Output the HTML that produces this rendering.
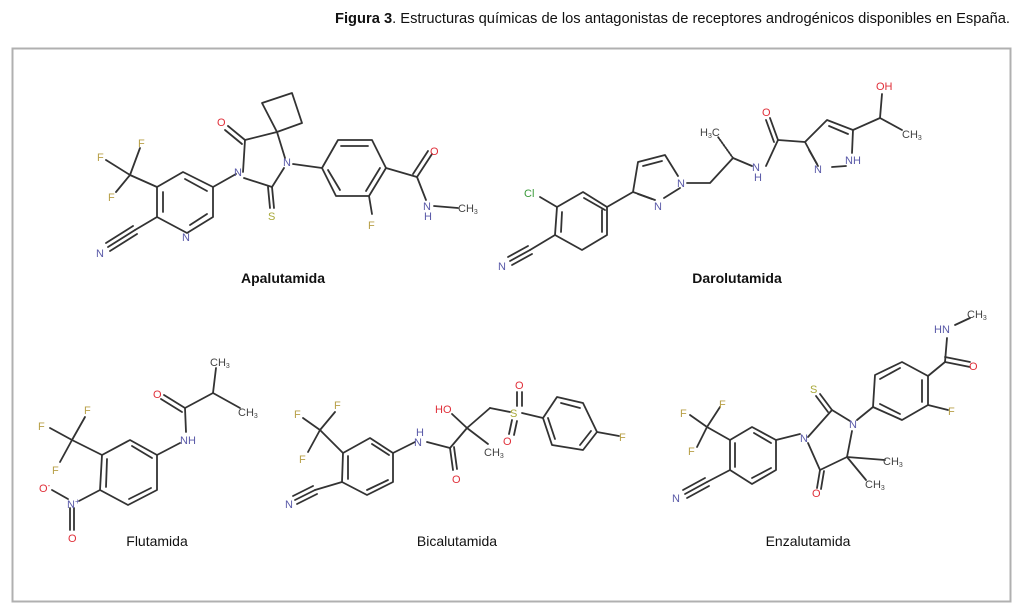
<!DOCTYPE html>
<html><head><meta charset="utf-8"><style>
body{margin:0;background:#fff;}
svg{display:block}
.b{stroke:#333;stroke-width:1.8;fill:none;stroke-linecap:round;stroke-linejoin:round}
text{font-family:"Liberation Sans",sans-serif;font-size:11px}
.n{fill:#5a5aa8}.o{fill:#e0303a}.f{fill:#b8a048}.s{fill:#a8a838}.c{fill:#444}.cl{fill:#3a9a3a}
.lab{font-size:14px;fill:#111;text-anchor:middle}
</style></head><body>
<svg width="1024" height="614" viewBox="0 0 1024 614">
<rect x="12.5" y="48.5" width="998" height="553" fill="#fff" stroke="#b0b0b0" stroke-width="2"/>
<text x="1010" y="23" text-anchor="end" style="font-family:'Liberation Sans Narrow','Liberation Sans',sans-serif;font-size:15px" textLength="675" lengthAdjust="spacingAndGlyphs" fill="#111"><tspan font-weight="bold">Figura 3</tspan>. Estructuras químicas de los antagonistas de receptores androgénicos disponibles en España.</text>

<!-- Apalutamida -->
<g class="b">
<polygon points="157,187 183,172 213,187 213,217 187,233 157,217"/>
<line x1="163" y1="192" x2="163" y2="212"/><line x1="185" y1="179" x2="207" y2="191"/><line x1="207" y1="214" x2="190" y2="225"/>
<line x1="157" y1="187" x2="130" y2="175"/><line x1="130" y1="175" x2="106" y2="160"/><line x1="130" y1="175" x2="140" y2="148"/><line x1="130" y1="175" x2="116" y2="192"/>
<line x1="157" y1="217" x2="135" y2="230"/><line x1="135" y1="230" x2="108" y2="247"/><line x1="133" y1="226" x2="106" y2="243"/><line x1="137" y1="234" x2="110" y2="251"/>
<line x1="213" y1="187" x2="236" y2="174"/>
<polyline points="243,172 245,140 277,132 285,158"/><polyline points="244,178 272,187 284,168"/>
<line x1="245" y1="140" x2="228" y2="126"/><line x1="242" y1="144" x2="225" y2="130"/>
<line x1="272" y1="187" x2="274" y2="208"/><line x1="268" y1="187" x2="270" y2="208"/>
<polygon points="277,132 262,103 292,93 302,123"/>
<line x1="293" y1="164" x2="322" y2="168"/>
<polygon points="322,168 338,140 372,140 386,168 369,196 336,196"/>
<line x1="341" y1="146" x2="368" y2="146"/><line x1="380" y1="168" x2="366" y2="191"/><line x1="340" y1="190" x2="328" y2="170"/>
<line x1="386" y1="168" x2="417" y2="177"/><line x1="417" y1="177" x2="432" y2="154"/><line x1="413" y1="174" x2="428" y2="151"/>
<line x1="417" y1="177" x2="426" y2="200"/><line x1="434" y1="206" x2="458" y2="208"/><line x1="369" y1="196" x2="372" y2="214"/>
</g>
<text x="97" y="161" class="f">F</text><text x="138" y="147" class="f">F</text><text x="108" y="201" class="f">F</text>
<text x="96" y="257" class="n">N</text><text x="182" y="241" class="n">N</text><text x="234" y="176" class="n">N</text><text x="283" y="166" class="n">N</text>
<text x="217" y="126" class="o">O</text><text x="268" y="220" class="s">S</text><text x="430" y="155" class="o">O</text>
<text x="368" y="229" class="f">F</text><text x="423" y="210" class="n">N</text><text x="424" y="220" class="n" font-size="9">H</text><text x="458" y="212" class="c">CH<tspan font-size="7" dy="2">3</tspan></text>
<text x="283" y="283" class="lab" font-weight="bold">Apalutamida</text>

<!-- Darolutamida -->
<g class="b">
<polygon points="557,207 583,192 607,207 607,235 582,250 555,235"/>
<line x1="562" y1="212" x2="561" y2="232"/><line x1="602" y1="210" x2="602" y2="232"/><line x1="584" y1="198" x2="605" y2="210"/>
<line x1="557" y1="207" x2="540" y2="197"/>
<line x1="555" y1="235" x2="530" y2="250"/><line x1="530" y1="250" x2="510" y2="261"/><line x1="528" y1="246" x2="508" y2="257"/><line x1="532" y1="254" x2="512" y2="265"/>
<line x1="607" y1="207" x2="633" y2="192"/>
<polyline points="655,200 633,192 638,162 665,155 678,176"/><line x1="680" y1="188" x2="664" y2="198"/>
<line x1="643" y1="166" x2="662" y2="161"/><line x1="638" y1="194" x2="652" y2="199"/>
<polyline points="687,183 710,183 733,158 752,166"/>
<line x1="733" y1="158" x2="718" y2="137" stroke-dasharray="1.5 1.5"/>
<line x1="766" y1="166" x2="778" y2="140"/><line x1="778" y1="140" x2="770" y2="118"/><line x1="774" y1="142" x2="766" y2="120"/>
<line x1="778" y1="140" x2="805" y2="142"/>
<polyline points="818,166 805,142 827,120 853,130 852,153"/><line x1="829" y1="126" x2="848" y2="134"/><line x1="809" y1="150" x2="817" y2="164"/><line x1="832" y1="167" x2="846" y2="166"/>
<line x1="853" y1="130" x2="880" y2="118"/><line x1="880" y1="118" x2="882" y2="94"/><line x1="880" y1="118" x2="902" y2="130"/>
</g>
<text x="524" y="197" class="cl">Cl</text><text x="498" y="270" class="n">N</text><text x="654" y="210" class="n">N</text><text x="677" y="187" class="n">N</text>
<text x="700" y="136" class="c" font-size="10">H<tspan font-size="7" dy="2">3</tspan><tspan dy="-2">C</tspan></text>
<text x="752" y="171" class="n">N</text><text x="754" y="181" class="n" font-size="9">H</text><text x="762" y="116" class="o">O</text>
<text x="814" y="173" class="n">N</text><text x="845" y="164" class="n">NH</text><text x="876" y="90" class="o">OH</text><text x="902" y="138" class="c">CH<tspan font-size="7" dy="2">3</tspan></text>
<text x="737" y="283" class="lab" font-weight="bold">Darolutamida</text>

<!-- Flutamida -->
<g class="b">
<polygon points="102,455 130,440 157,455 157,490 128,505 100,490"/>
<line x1="107" y1="459" x2="106" y2="487"/><line x1="151" y1="488" x2="129" y2="499"/><line x1="132" y1="446" x2="152" y2="458"/>
<line x1="102" y1="455" x2="72" y2="440"/><line x1="72" y1="440" x2="50" y2="428"/><line x1="72" y1="440" x2="85" y2="417"/><line x1="72" y1="440" x2="60" y2="462"/>
<line x1="100" y1="490" x2="79" y2="501"/><line x1="68" y1="499" x2="52" y2="490"/><line x1="70" y1="508" x2="70" y2="530"/><line x1="74" y1="508" x2="74" y2="530"/>
<line x1="157" y1="455" x2="180" y2="443"/><line x1="186" y1="432" x2="185" y2="408"/><line x1="185" y1="408" x2="164" y2="395"/><line x1="182" y1="412" x2="161" y2="399"/>
<line x1="185" y1="408" x2="213" y2="393"/><line x1="213" y1="393" x2="216" y2="368"/><line x1="213" y1="393" x2="240" y2="408"/>
</g>
<text x="38" y="430" class="f">F</text><text x="84" y="414" class="f">F</text><text x="52" y="474" class="f">F</text>
<text x="39" y="492" class="o">O<tspan font-size="8" dy="-4">-</tspan></text><text x="67" y="508" class="n">N<tspan font-size="8" dy="-4">+</tspan></text><text x="68" y="542" class="o">O</text>
<text x="180" y="444" class="n">NH</text><text x="153" y="398" class="o">O</text><text x="210" y="366" class="c">CH<tspan font-size="7" dy="2">3</tspan></text><text x="238" y="416" class="c">CH<tspan font-size="7" dy="2">3</tspan></text>
<text x="157" y="546" class="lab">Flutamida</text>

<!-- Bicalutamida -->
<g class="b">
<polygon points="343,453 370,438 393,453 393,482 367,495 342,482"/>
<line x1="348" y1="456" x2="348" y2="479"/><line x1="388" y1="480" x2="367" y2="490"/><line x1="372" y1="444" x2="389" y2="455"/>
<line x1="343" y1="453" x2="320" y2="430"/><line x1="320" y1="430" x2="303" y2="418"/><line x1="320" y1="430" x2="335" y2="412"/><line x1="320" y1="430" x2="308" y2="452"/>
<line x1="342" y1="482" x2="315" y2="490"/><line x1="315" y1="490" x2="295" y2="500"/><line x1="313" y1="486" x2="293" y2="496"/><line x1="317" y1="494" x2="297" y2="504"/>
<line x1="393" y1="453" x2="415" y2="442"/><line x1="427" y1="442" x2="450" y2="448"/><line x1="450" y1="448" x2="453" y2="470"/><line x1="454" y1="447" x2="457" y2="469"/>
<line x1="450" y1="448" x2="467" y2="428"/><line x1="467" y1="428" x2="452" y2="414"/><line x1="467" y1="428" x2="488" y2="444"/><line x1="467" y1="428" x2="490" y2="408"/>
<line x1="490" y1="408" x2="510" y2="412"/><line x1="517" y1="406" x2="517" y2="392"/><line x1="522" y1="406" x2="522" y2="392"/><line x1="512" y1="420" x2="509" y2="434"/><line x1="517" y1="421" x2="514" y2="435"/>
<line x1="522" y1="413" x2="543" y2="418"/>
<polygon points="543,418 557,397 583,403 597,432 583,450 552,445"/>
<line x1="561" y1="403" x2="580" y2="408"/><line x1="591" y1="431" x2="580" y2="445"/><line x1="548" y1="418" x2="555" y2="439"/>
<line x1="597" y1="432" x2="619" y2="436"/>
</g>
<text x="294" y="418" class="f">F</text><text x="334" y="409" class="f">F</text><text x="299" y="463" class="f">F</text>
<text x="285" y="508" class="n">N</text><text x="414" y="446" class="n">N</text><text x="416" y="436" class="n" font-size="9">H</text>
<text x="452" y="483" class="o">O</text><text x="435" y="413" class="o">HO</text><text x="484" y="456" class="c">CH<tspan font-size="7" dy="2">3</tspan></text>
<text x="510" y="417" class="s">S</text><text x="515" y="389" class="o">O</text><text x="503" y="445" class="o">O</text><text x="619" y="441" class="f">F</text>
<text x="457" y="546" class="lab">Bicalutamida</text>

<!-- Enzalutamida -->
<g class="b">
<polygon points="730,440 752,427 776,440 776,470 752,484 730,470"/>
<line x1="735" y1="443" x2="735" y2="467"/><line x1="771" y1="468" x2="752" y2="478"/><line x1="754" y1="433" x2="771" y2="443"/>
<line x1="730" y1="440" x2="707" y2="427"/><line x1="707" y1="427" x2="690" y2="415"/><line x1="707" y1="427" x2="720" y2="407"/><line x1="707" y1="427" x2="697" y2="447"/>
<line x1="730" y1="470" x2="707" y2="482"/><line x1="707" y1="482" x2="685" y2="494"/><line x1="705" y1="478" x2="683" y2="490"/><line x1="709" y1="486" x2="687" y2="498"/>
<line x1="776" y1="440" x2="800" y2="434"/>
<polyline points="808,437 832,410 850,421"/><polyline points="808,443 820,470 847,457 852,431"/>
<line x1="832" y1="410" x2="820" y2="394"/><line x1="828" y1="412" x2="816" y2="396"/>
<line x1="820" y1="470" x2="817" y2="488"/><line x1="824" y1="471" x2="821" y2="489"/>
<line x1="847" y1="457" x2="885" y2="460"/><line x1="847" y1="457" x2="866" y2="480"/>
<line x1="857" y1="420" x2="873" y2="407"/>
<polygon points="873,407 875,375 902,362 928,376 928,405 902,420"/>
<line x1="880" y1="379" x2="900" y2="368"/><line x1="922" y1="380" x2="922" y2="402"/><line x1="880" y1="404" x2="900" y2="414"/>
<line x1="928" y1="405" x2="948" y2="410"/><line x1="928" y1="376" x2="945" y2="362"/><line x1="945" y1="362" x2="970" y2="367"/><line x1="945" y1="357" x2="970" y2="362"/>
<line x1="945" y1="362" x2="947" y2="338"/><line x1="955" y1="325" x2="970" y2="318"/>
</g>
<text x="680" y="417" class="f">F</text><text x="719" y="408" class="f">F</text><text x="688" y="455" class="f">F</text>
<text x="672" y="502" class="n">N</text><text x="800" y="442" class="n">N</text><text x="849" y="428" class="n">N</text>
<text x="810" y="393" class="s">S</text><text x="812" y="497" class="o">O</text>
<text x="883" y="465" class="c">CH<tspan font-size="7" dy="2">3</tspan></text><text x="865" y="488" class="c">CH<tspan font-size="7" dy="2">3</tspan></text>
<text x="948" y="415" class="f">F</text><text x="969" y="370" class="o">O</text><text x="934" y="333" class="n">HN</text><text x="967" y="318" class="c">CH<tspan font-size="7" dy="2">3</tspan></text>
<text x="808" y="546" class="lab">Enzalutamida</text>
</svg>
</body></html>
